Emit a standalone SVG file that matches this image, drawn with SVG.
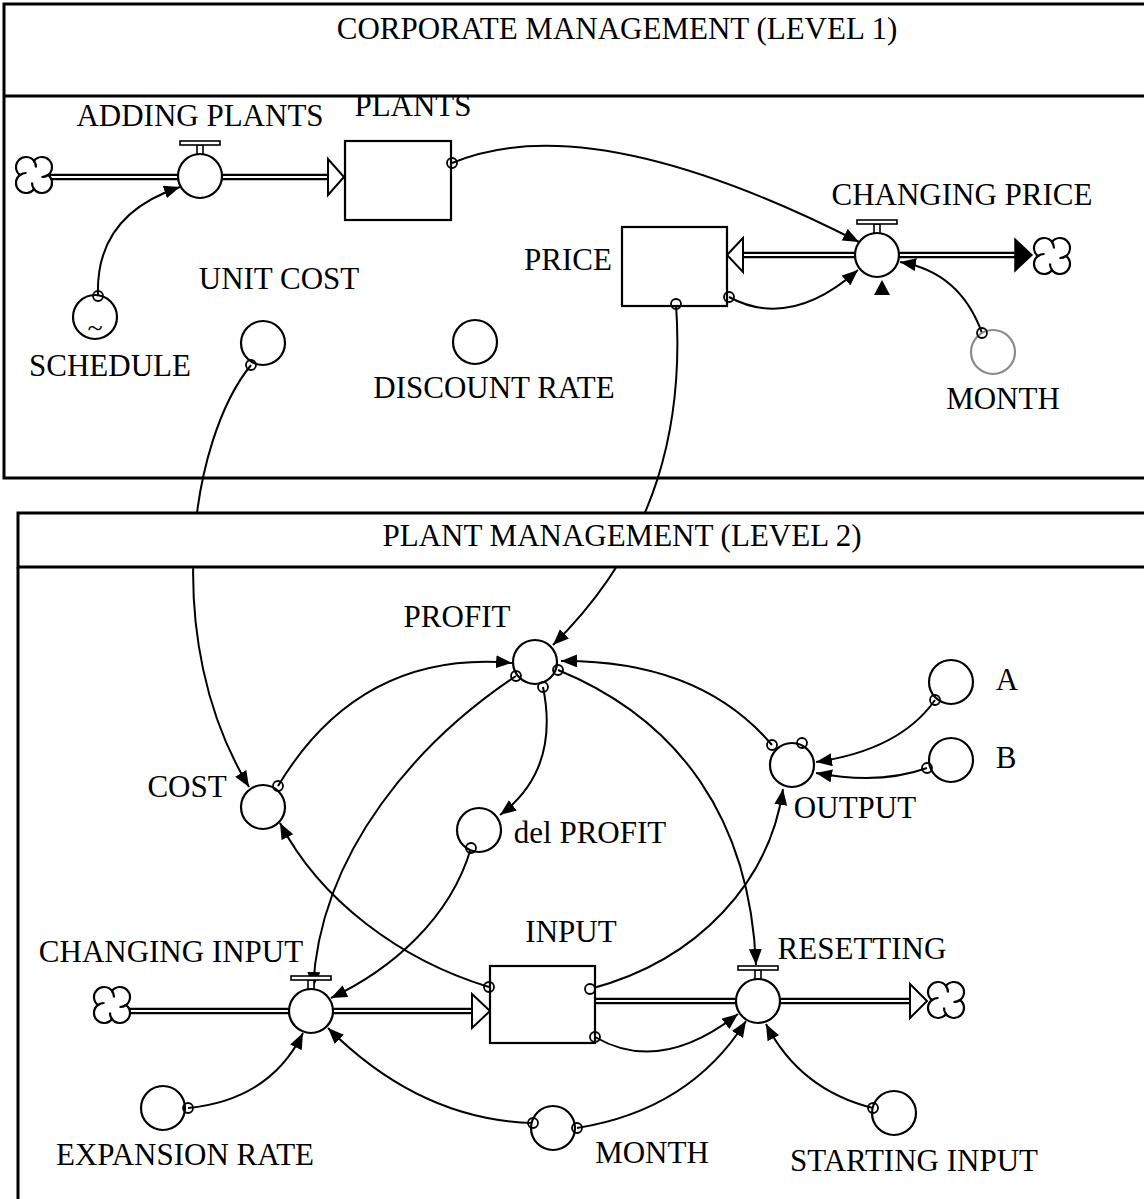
<svg xmlns="http://www.w3.org/2000/svg" width="1144" height="1199" viewBox="0 0 1144 1199">
<style>
  text { font-family: "Liberation Serif", "Times New Roman", serif; font-size: 31px; fill: #000; text-anchor: middle; }
  .panel { fill: none; stroke: #000; stroke-width: 3; }
  .node { fill: #fff; stroke: #000; stroke-width: 2.2; }
  .gray { fill: #fff; stroke: #8a8a8a; stroke-width: 2.2; }
  .stock { fill: #fff; stroke: #000; stroke-width: 2.2; }
  .link { fill: none; stroke: #000; stroke-width: 2; marker-end: url(#arr); }
  .dot { fill: none; stroke: #000; stroke-width: 1.8; }
  .pipeO { fill: none; stroke: #000; stroke-width: 6.5; }
  .pipeI { fill: none; stroke: #fff; stroke-width: 2.2; }
  .hollow { fill: #fff; stroke: #000; stroke-width: 2; }
  .cloud { fill: #fff; stroke: #000; stroke-width: 2.2; }
</style>
<defs>
  <marker id="arr" markerUnits="userSpaceOnUse" markerWidth="17" markerHeight="13" refX="16" refY="6.5" orient="auto">
    <path d="M0,0 L16,6.5 L0,13 z" fill="#000"/>
  </marker>
  <g id="cloudSym">
    <path class="cloud" d="M 0 -14 A 10 10 0 1 1 14 0 A 10 10 0 1 1 0 14 A 10 10 0 1 1 -14 0 A 10 10 0 1 1 0 -14 Z"/>
    <path fill="none" stroke="#000" stroke-width="2.2" d="M 14 0 A 10 10 0 0 1 7.5 2 M 0 14 A 10 10 0 0 1 -2 7.5 M -14 0 A 10 10 0 0 1 -7.5 -2 M 0 -14 A 10 10 0 0 1 2 -7.5"/>
  </g>
  <g id="valveTop">
    <rect x="-3" y="-31" width="6" height="10" fill="#fff" stroke="#000" stroke-width="1.6"/>
    <rect x="-20" y="-35" width="40" height="4" fill="#fff" stroke="#000" stroke-width="1.6"/>
  </g>
</defs>

<g id="panel-1">
  <path class="panel" d="M 1150 4 H 4 V 478 H 1150 M 4 96 H 1150"/>
  <text x="617" y="39">CORPORATE MANAGEMENT (LEVEL 1)</text>
</g>
<g id="panel-2-body">
  <path class="panel" d="M 18 567 V 1210"/>
</g>

<g id="flows">
  <path class="pipeO" d="M 50 177 H 330 M 743 255 H 1016 M 129 1011 H 473 M 595 1001 H 911"/>
  <path class="pipeI" d="M 50 177 H 330 M 743 255 H 1016 M 129 1011 H 473 M 595 1001 H 911"/>
  <polygon class="hollow" points="328,159 344,177 328,195"/>
  <polygon class="hollow" points="743,238 727,255 743,272"/>
  <polygon fill="#000" stroke="#000" stroke-width="1.5" points="1015,239 1032,255 1015,271"/>
  <polygon class="hollow" points="472,994 490,1011 472,1028"/>
  <polygon class="hollow" points="910,984 927,1001 910,1018"/>
</g>

<g id="connectors">
  <path class="link" d="M 98 296 Q 95 215 180 187"/>
  <path class="link" d="M 452 163 Q 590 105 859 242"/>
  <path class="link" d="M 729 297 Q 790 330 858 270"/>
  <path class="link" d="M 982 333 Q 960 272 900 262"/>
  <path class="link" d="M 676 304 C 684 420 660 540 553 645"/>
  <path class="link" d="M 251 365 C 190 440 160 640 249 787"/>
  <path class="link" d="M 278 786 Q 360 650 512 663"/>
  <path class="link" d="M 516 676 C 420 740 320 850 313 988"/>
  <path class="link" d="M 543 687 Q 560 770 500 815"/>
  <path class="link" d="M 558 670 C 680 720 750 820 756 965"/>
  <path class="link" d="M 772 745 Q 700 660 561 661"/>
  <path class="link" d="M 935 700 Q 900 750 816 762"/>
  <path class="link" d="M 927 768 Q 880 785 816 773"/>
  <path class="link" d="M 590 989 C 700 960 770 880 783 789"/>
  <path class="link" d="M 595 1037 Q 660 1075 738 1014"/>
  <path class="link" d="M 489 987 C 400 960 320 900 280 823"/>
  <path class="link" d="M 471 848 C 450 920 390 970 331 998"/>
  <path class="link" d="M 188 1108 Q 270 1100 303 1033"/>
  <path class="link" d="M 533 1123 Q 420 1120 328 1028"/>
  <path class="link" d="M 577 1128 Q 690 1110 746 1021"/>
  <path class="link" d="M 873 1108 Q 800 1090 766 1024"/>
  <polygon fill="#000" points="874,295 890,295 882,280"/>
</g>

<g id="panel-2-title">
  <rect x="18" y="513" width="1140" height="54" fill="#fff" stroke="none"/>
  <path class="panel" d="M 1150 513 H 18 V 567 H 1150"/>
  <text x="622" y="546">PLANT MANAGEMENT (LEVEL 2)</text>
</g>

<g id="cloud-1"><use href="#cloudSym" x="34" y="175"/></g>
<g id="cloud-2"><use href="#cloudSym" x="1052" y="256"/></g>
<g id="cloud-3"><use href="#cloudSym" x="112" y="1005"/></g>
<g id="cloud-4"><use href="#cloudSym" x="946" y="1000"/></g>

<g id="adding-plants">
  <use href="#valveTop" x="200" y="176"/>
  <circle class="node" cx="200" cy="176" r="22"/>
  <text x="200" y="126">ADDING PLANTS</text>
</g>
<g id="plants">
  <rect class="stock" x="345" y="141" width="106" height="79"/>
  <text x="413" y="116">PLANTS</text>
</g>
<g id="schedule">
  <circle class="node" cx="95" cy="317" r="22"/>
  <text x="95" y="337" style="font-size:28px">~</text>
  <text x="110" y="376">SCHEDULE</text>
</g>
<g id="unit-cost">
  <circle class="node" cx="263" cy="343" r="22"/>
  <text x="279" y="289">UNIT COST</text>
</g>
<g id="discount-rate">
  <circle class="node" cx="475" cy="342" r="22"/>
  <text x="494" y="398">DISCOUNT RATE</text>
</g>
<g id="price">
  <rect class="stock" x="622" y="227" width="105" height="79"/>
  <text x="568" y="270">PRICE</text>
</g>
<g id="changing-price">
  <use href="#valveTop" x="877" y="255"/>
  <circle class="node" cx="877" cy="255" r="22"/>
  <text x="962" y="205">CHANGING PRICE</text>
</g>
<g id="month-1">
  <circle class="gray" cx="993" cy="352" r="22"/>
  <text x="1003" y="409">MONTH</text>
</g>

<g id="profit">
  <circle class="node" cx="535" cy="662" r="22"/>
  <text x="457" y="627">PROFIT</text>
</g>
<g id="cost">
  <circle class="node" cx="263" cy="807" r="22"/>
  <text x="187" y="797">COST</text>
</g>
<g id="del-profit">
  <circle class="node" cx="479" cy="830" r="22"/>
  <text x="590" y="843">del PROFIT</text>
</g>
<g id="output">
  <circle class="node" cx="792" cy="765" r="22"/>
  <text x="855" y="818">OUTPUT</text>
</g>
<g id="a">
  <circle class="node" cx="951" cy="682" r="22"/>
  <text x="1007" y="690">A</text>
</g>
<g id="b">
  <circle class="node" cx="951" cy="760" r="22"/>
  <text x="1006" y="768">B</text>
</g>
<g id="input">
  <rect class="stock" x="490" y="966" width="105" height="77"/>
  <text x="571" y="942">INPUT</text>
</g>
<g id="changing-input">
  <use href="#valveTop" x="311" y="1011"/>
  <circle class="node" cx="311" cy="1011" r="22"/>
  <text x="171" y="962">CHANGING INPUT</text>
</g>
<g id="resetting">
  <use href="#valveTop" x="758" y="1001"/>
  <circle class="node" cx="758" cy="1001" r="22"/>
  <text x="862" y="959">RESETTING</text>
</g>
<g id="expansion-rate">
  <circle class="node" cx="163" cy="1108" r="22"/>
  <text x="185" y="1165">EXPANSION RATE</text>
</g>
<g id="month-2">
  <circle class="node" cx="553" cy="1128" r="22"/>
  <text x="652" y="1163">MONTH</text>
</g>
<g id="starting-input">
  <circle class="node" cx="894" cy="1113" r="22"/>
  <text x="914" y="1171">STARTING INPUT</text>
</g>

<g id="link-origins">
  <circle class="dot" cx="98" cy="296" r="5"/>
  <circle class="dot" cx="452" cy="163" r="5"/>
  <circle class="dot" cx="729" cy="297" r="5"/>
  <circle class="dot" cx="982" cy="333" r="5"/>
  <circle class="dot" cx="676" cy="304" r="5"/>
  <circle class="dot" cx="251" cy="365" r="5"/>
  <circle class="dot" cx="278" cy="786" r="5"/>
  <circle class="dot" cx="516" cy="676" r="5"/>
  <circle class="dot" cx="543" cy="687" r="5"/>
  <circle class="dot" cx="558" cy="670" r="5"/>
  <circle class="dot" cx="772" cy="745" r="5"/>
  <circle class="dot" cx="802" cy="743" r="5"/>
  <circle class="dot" cx="935" cy="700" r="5"/>
  <circle class="dot" cx="927" cy="768" r="5"/>
  <circle class="dot" cx="590" cy="989" r="5"/>
  <circle class="dot" cx="595" cy="1037" r="5"/>
  <circle class="dot" cx="489" cy="987" r="5"/>
  <circle class="dot" cx="471" cy="848" r="5"/>
  <circle class="dot" cx="188" cy="1108" r="5"/>
  <circle class="dot" cx="533" cy="1123" r="5"/>
  <circle class="dot" cx="577" cy="1128" r="5"/>
  <circle class="dot" cx="873" cy="1108" r="5"/>
</g>
</svg>
